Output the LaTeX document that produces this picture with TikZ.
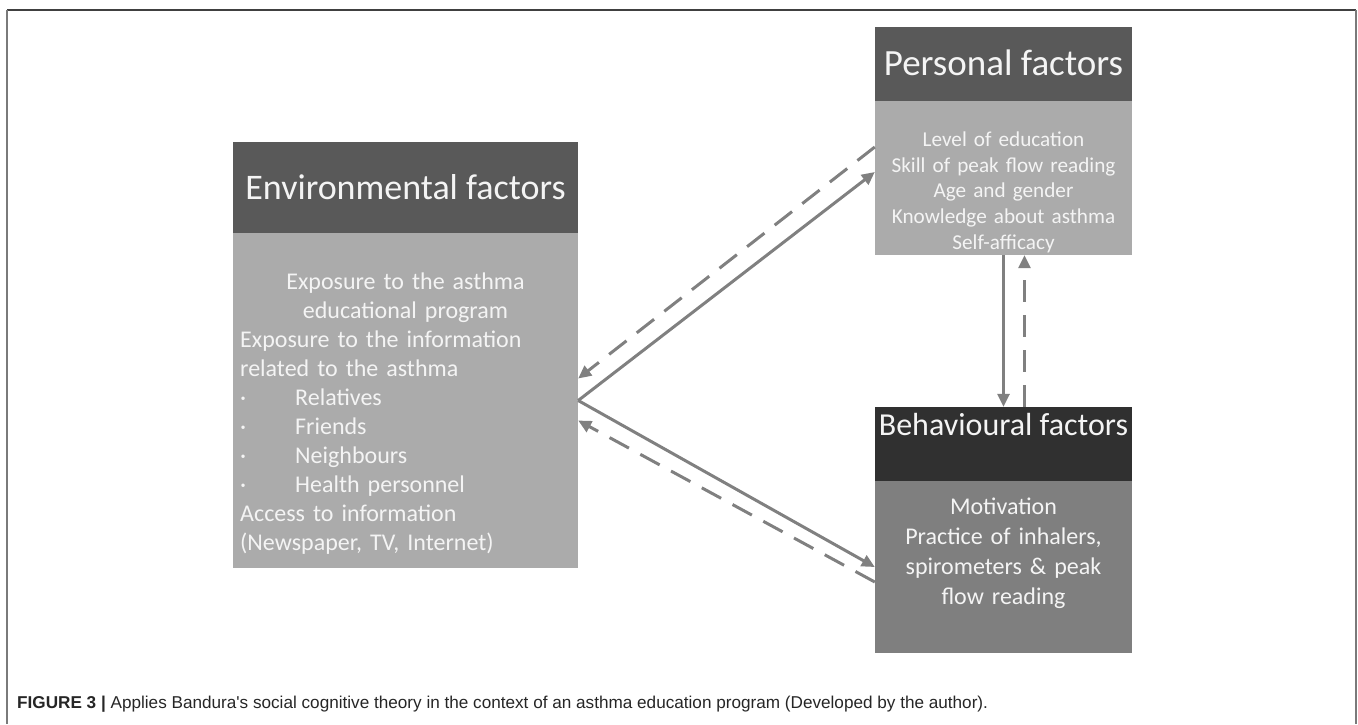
\documentclass[tikz,border=0pt]{standalone}
\usepackage{fontspec}
\setmainfont{Carlito}
\newfontfamily\capfont{Liberation Sans}
\usepackage{xcolor}
\usepackage{tikz}
\usetikzlibrary{arrows.meta, positioning, calc}
\definecolor{headgrey}{HTML}{595959}
\definecolor{bodygrey}{HTML}{ABABAB}
\definecolor{behhead}{HTML}{303030}
\definecolor{behbody}{HTML}{7F7F7F}
\definecolor{linkgrey}{HTML}{808080}
\definecolor{framedark}{HTML}{404040}
\definecolor{frameside}{HTML}{7A7A7A}
\definecolor{textwhite}{HTML}{F4F4F4}

\tikzset{
  panel/.style={rectangle, inner sep=0pt, draw=none},
  boxtext/.style={textwhite, inner sep=0pt},
  link/.style={linkgrey, line width=3pt, -{Triangle[length=13pt,width=12pt]}},
  backlink/.style={link, dash pattern=on 22pt off 13pt}
}

\begin{document}
\begin{tikzpicture}[x=1pt, y=-1pt]
  \useasboundingbox (0,0) rectangle (1358,724);

  % Frame round the figure
  \draw[framedark, line width=1.5pt] (7,10) -- (1356,10);
  \draw[frameside, line width=2pt] (7,10) -- (7,724);
  \draw[frameside, line width=2pt] (1356,10) -- (1356,724);

  % Environmental factors box
  \node[panel, fill=headgrey, minimum width=345pt, minimum height=91pt] (envhead) at (405.5,187.5) {};
  \node[panel, fill=bodygrey, minimum width=345pt, minimum height=335pt] (envbody) at (405.5,400.5) {};
  \node[boxtext, anchor=base, font=\fontsize{36}{43}\selectfont] (envtitle) at (405.5,199.5) {Environmental factors};
  \node[boxtext, anchor=base, text width=345pt, align=center, font=\fontsize{24}{29}\selectfont] (envtop) at (405.5,289.5)
    {Exposure to the asthma\\educational program};
  \node[boxtext, anchor=base west, text width=335pt, align=left, font=\fontsize{24}{29}\selectfont] (envlist) at (240,347.5)
    {Exposure to the information\\related to the asthma\\
     \makebox[55pt][l]{·}Relatives\\
     \makebox[55pt][l]{·}Friends\\
     \makebox[55pt][l]{·}Neighbours\\
     \makebox[55pt][l]{·}Health personnel\\
     Access to information\\(Newspaper, TV, Internet)};

  % Personal factors box
  \node[panel, fill=headgrey, minimum width=257pt, minimum height=74pt] (perhead) at (1003.5,64) {};
  \node[panel, fill=bodygrey, minimum width=257pt, minimum height=154pt] (perbody) at (1003.5,178) {};
  \node[boxtext, anchor=base, font=\fontsize{37}{44}\selectfont] (pertitle) at (1003.5,75) {Personal factors};
  \node[boxtext, anchor=base, text width=257pt, align=center, font=\fontsize{21.2}{25.7}\selectfont] (perlist) at (1003.5,146.5)
    {Level of education\\Skill of peak flow reading\\Age and gender\\Knowledge about asthma\\Self-afficacy};

  % Behavioural factors box
  \node[panel, fill=behhead, minimum width=257pt, minimum height=74pt] (behhead) at (1003.5,444) {};
  \node[panel, fill=behbody, minimum width=257pt, minimum height=172pt] (behbody) at (1003.5,567) {};
  \node[boxtext, anchor=base, font=\fontsize{32}{38}\selectfont] (behtitle) at (1003.5,435) {Behavioural factors};
  \node[boxtext, anchor=base, text width=257pt, align=center, font=\fontsize{24}{30}\selectfont] (behlist) at (1003.5,514.5)
    {Motivation\\Practice of inhalers,\\spirometers \& peak\\flow reading};

  % Links between the factors
  \draw[link] (envbody.east) -- ([yshift=6pt]perbody.west);
  \draw[backlink] ([yshift=31pt]perbody.west) -- ([yshift=22pt]envbody.east);
  \draw[link] (envbody.east) -- (behbody.west);
  \draw[backlink] ([yshift=-15pt]behbody.west) -- ([yshift=-20pt]envbody.east);
  \draw[link] (perbody.south) -- (behhead.north);
  \draw[backlink] ([xshift=21pt]behhead.north) -- ([xshift=21pt]perbody.south);

  % Caption
  \node[anchor=base west, inner sep=0pt, font=\capfont\fontsize{17.15}{20}\selectfont, text=black!85] (caption) at (17,708)
    {\textbf{FIGURE 3 |} Applies Bandura's social cognitive theory in the context of an asthma education program (Developed by the author).};
\end{tikzpicture}
\end{document}
